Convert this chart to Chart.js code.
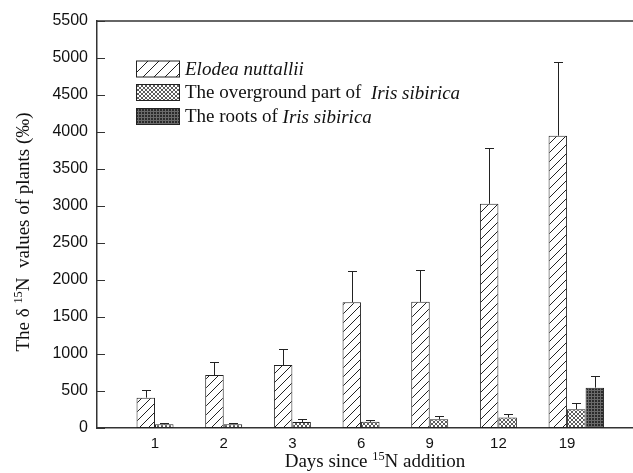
<!DOCTYPE html>
<html><head><meta charset="utf-8">
<script src="https://cdn.jsdelivr.net/npm/chart.js@4/dist/chart.umd.min.js"></script>
<style>html,body{margin:0;padding:0;background:#fff;overflow:hidden}#wrap{width:633px;height:473px;position:relative}</style>
</head><body><div id="wrap"><canvas id="c" width="633" height="473"></canvas></div>
<script>
// ---- data ----
const categories = ['1', '2', '3', '6', '9', '12', '19'];
const elodea = [410, 715, 850, 1700, 1705, 3030, 3950];
const elodeaErr = [100, 175, 215, 425, 430, 755, 995];
const overground = [50, 52, 82, 83, 117, 142, 255];
const overgroundErr = [12, 10, 35, 25, 45, 45, 78];
const roots = [null, null, null, null, null, null, 545];
const rootsErr = [null, null, null, null, null, null, 162];
const yTicks = [0, 500, 1000, 1500, 2000, 2500, 3000, 3500, 4000, 4500, 5000, 5500];

// ---- patterns ----
function makePattern(size, draw) {
  const c = document.createElement('canvas');
  c.width = size; c.height = size;
  const g = c.getContext('2d');
  draw(g, size);
  return g.createPattern(c, 'repeat');
}
const hatch = makePattern(9, (g, s) => {
  g.fillStyle = '#fff'; g.fillRect(0, 0, s, s);
  g.strokeStyle = '#222'; g.lineWidth = 1;
  g.beginPath();
  g.moveTo(-1, s + 1); g.lineTo(s + 1, -1);
  g.moveTo(-2, 1); g.lineTo(1, -2);
  g.moveTo(s - 1, s + 2); g.lineTo(s + 2, s - 1);
  g.stroke();
});
const legendHatch = makePattern(11, (g, s) => {
  g.fillStyle = '#fff'; g.fillRect(0, 0, s, s);
  g.strokeStyle = '#222'; g.lineWidth = 1;
  g.beginPath();
  g.moveTo(-1, s + 1); g.lineTo(s + 1, -1);
  g.moveTo(-2, 1); g.lineTo(1, -2);
  g.moveTo(s - 1, s + 2); g.lineTo(s + 2, s - 1);
  g.stroke();
});
const cross = makePattern(4, (g, s) => {
  g.fillStyle = '#fff'; g.fillRect(0, 0, s, s);
  g.strokeStyle = '#4a4a4a'; g.lineWidth = 0.9;
  g.beginPath();
  g.moveTo(0, 0); g.lineTo(s, s);
  g.moveTo(0, s); g.lineTo(s, 0);
  g.stroke();
});
const grid = makePattern(3, (g, s) => {
  g.fillStyle = '#2b2b2b'; g.fillRect(0, 0, s, s);
  g.fillStyle = '#6a6a6a';
  g.fillRect(0, 0, s, 1);
  g.fillRect(0, 0, 1, s);
});

// ---- layout constants ----
const groupFrac = 0.808;                 // share of one category step used by the 3 bars
const shift = groupFrac / 3 / 2;         // labels sit between 1st and 2nd bar
const toPts = arr => arr.map((v, i) => ({ x: i + shift, y: v }));

const legendRows = [
  [{ t: 'Elodea nuttallii', it: true }],
  [{ t: 'The overground part of  ', it: false }, { t: 'Iris sibirica', it: true }],
  [{ t: 'The roots of ', it: false }, { t: 'Iris sibirica', it: true }]
];
const legendFills = [legendHatch, cross, grid];

const serif = '"Liberation Serif", "Times New Roman", serif';
const sans = '"Liberation Sans", Arial, sans-serif';

function drawRich(ctx, segs, x, y, size) {
  let cx = x;
  for (const s of segs) {
    if (s.sup) {
      ctx.font = (size * 0.65) + 'px ' + serif;
      ctx.fillText(s.t, cx, y - size * 0.35);
    } else {
      ctx.font = (s.it ? 'italic ' : '') + size + 'px ' + serif;
      ctx.fillText(s.t, cx, y);
    }
    cx += ctx.measureText(s.t).width;
  }
  return cx - x;
}
function richWidth(ctx, segs, size) {
  let w = 0;
  for (const s of segs) {
    ctx.font = s.sup ? (size * 0.65) + 'px ' + serif : (s.it ? 'italic ' : '') + size + 'px ' + serif;
    w += ctx.measureText(s.t).width;
  }
  return w;
}

const decor = {
  id: 'decor',
  afterDatasetsDraw(chart) {
    const ctx = chart.ctx, ca = chart.chartArea;
    const ys = chart.scales.y;
    ctx.save();
    // error bars
    const errs = [elodeaErr, overgroundErr, rootsErr];
    const vals = [elodea, overground, roots];
    ctx.strokeStyle = '#222'; ctx.lineWidth = 1;
    chart.data.datasets.forEach((ds, di) => {
      const meta = chart.getDatasetMeta(di);
      meta.data.forEach((bar, i) => {
        const v = vals[di][i], e = errs[di][i];
        if (v == null || e == null) return;
        const y0 = ys.getPixelForValue(v), y1 = ys.getPixelForValue(v + e);
        const x = Math.round(bar.x) + 0.5;
        ctx.beginPath();
        ctx.moveTo(x, y0); ctx.lineTo(x, Math.round(y1) + 0.5);
        ctx.moveTo(x - 4.5, Math.round(y1) + 0.5); ctx.lineTo(x + 4.5, Math.round(y1) + 0.5);
        ctx.stroke();
      });
    });
    // top frame line
    ctx.strokeStyle = '#333'; ctx.lineWidth = 1.5;
    ctx.beginPath(); ctx.moveTo(ca.left, ca.top); ctx.lineTo(chart.width, ca.top); ctx.stroke();
    // inward y tick marks
    ctx.lineWidth = 1;
    yTicks.forEach(v => {
      const y = Math.round(ys.getPixelForValue(v)) + 0.5;
      ctx.beginPath(); ctx.moveTo(ca.left, y); ctx.lineTo(ca.left + 8, y); ctx.stroke();
    });
    // legend
    ctx.textBaseline = 'middle'; ctx.textAlign = 'left';
    const boxX = 136.5, boxW = 43, boxH = 16, rowY = [61, 84.5, 108.5];
    legendRows.forEach((segs, r) => {
      ctx.fillStyle = legendFills[r];
      ctx.fillRect(boxX, rowY[r], boxW, boxH);
      ctx.strokeStyle = '#222'; ctx.lineWidth = 1;
      ctx.strokeRect(boxX, rowY[r], boxW, boxH);
      ctx.fillStyle = '#111';
      drawRich(ctx, segs, 185, rowY[r] + boxH / 2 + 1, 19);
    });
    // axis titles
    ctx.fillStyle = '#111';
    ctx.textBaseline = 'alphabetic';
    const xt = [{ t: 'Days since ' }, { t: '15', sup: true }, { t: 'N addition' }];
    const xw = richWidth(ctx, xt, 19);
    drawRich(ctx, xt, 375 - xw / 2, 467, 19);
    const yt = [{ t: 'The δ ' }, { t: '15', sup: true }, { t: 'N  values of plants (‰)' }];
    const yw = richWidth(ctx, yt, 19);
    ctx.translate(29, 232);
    ctx.rotate(-Math.PI / 2);
    drawRich(ctx, yt, -yw / 2, 0, 19);
    ctx.restore();
  }
};

new Chart(document.getElementById('c'), {
  type: 'bar',
  data: {
    datasets: [
      { label: 'Elodea nuttallii', data: toPts(elodea), backgroundColor: hatch, borderColor: '#222', borderWidth: 1, borderSkipped: false },
      { label: 'The overground part of Iris sibirica', data: toPts(overground), backgroundColor: cross, borderColor: '#222', borderWidth: 1, borderSkipped: false },
      { label: 'The roots of Iris sibirica', data: toPts(roots), backgroundColor: grid, borderColor: '#222', borderWidth: 1, borderSkipped: false }
    ]
  },
  options: {
    responsive: false,
    animation: false,
    devicePixelRatio: 1,
    categoryPercentage: groupFrac,
    barPercentage: 1,
    layout: { padding: { top: 21, right: 0, bottom: 0, left: 0 } },
    plugins: { legend: { display: false }, tooltip: { enabled: false } },
    scales: {
      x: {
        type: 'linear', offset: false, min: -0.845, max: 6.96,
        afterBuildTicks: s => { s.ticks = categories.map((c, i) => ({ value: i })); },
        afterFit: s => { s.height = 45; },
        grid: { display: false, drawTicks: false },
        border: { display: true, color: '#333', width: 1.5 },
        ticks: { callback: (v, i) => categories[i], autoSkip: false, maxRotation: 0, padding: 7, color: '#111', font: { family: sans, size: 15 } }
      },
      y: {
        min: 0, max: 5500,
        afterBuildTicks: s => { s.ticks = yTicks.map(v => ({ value: v })); },
        afterFit: s => { s.width = 97; },
        grid: { display: false, drawTicks: false },
        border: { display: true, color: '#333', width: 1.5 },
        ticks: { callback: v => String(v), padding: 9, color: '#111', font: { family: sans, size: 16 } }
      }
    }
  },
  plugins: [decor]
});
</script></body></html>
